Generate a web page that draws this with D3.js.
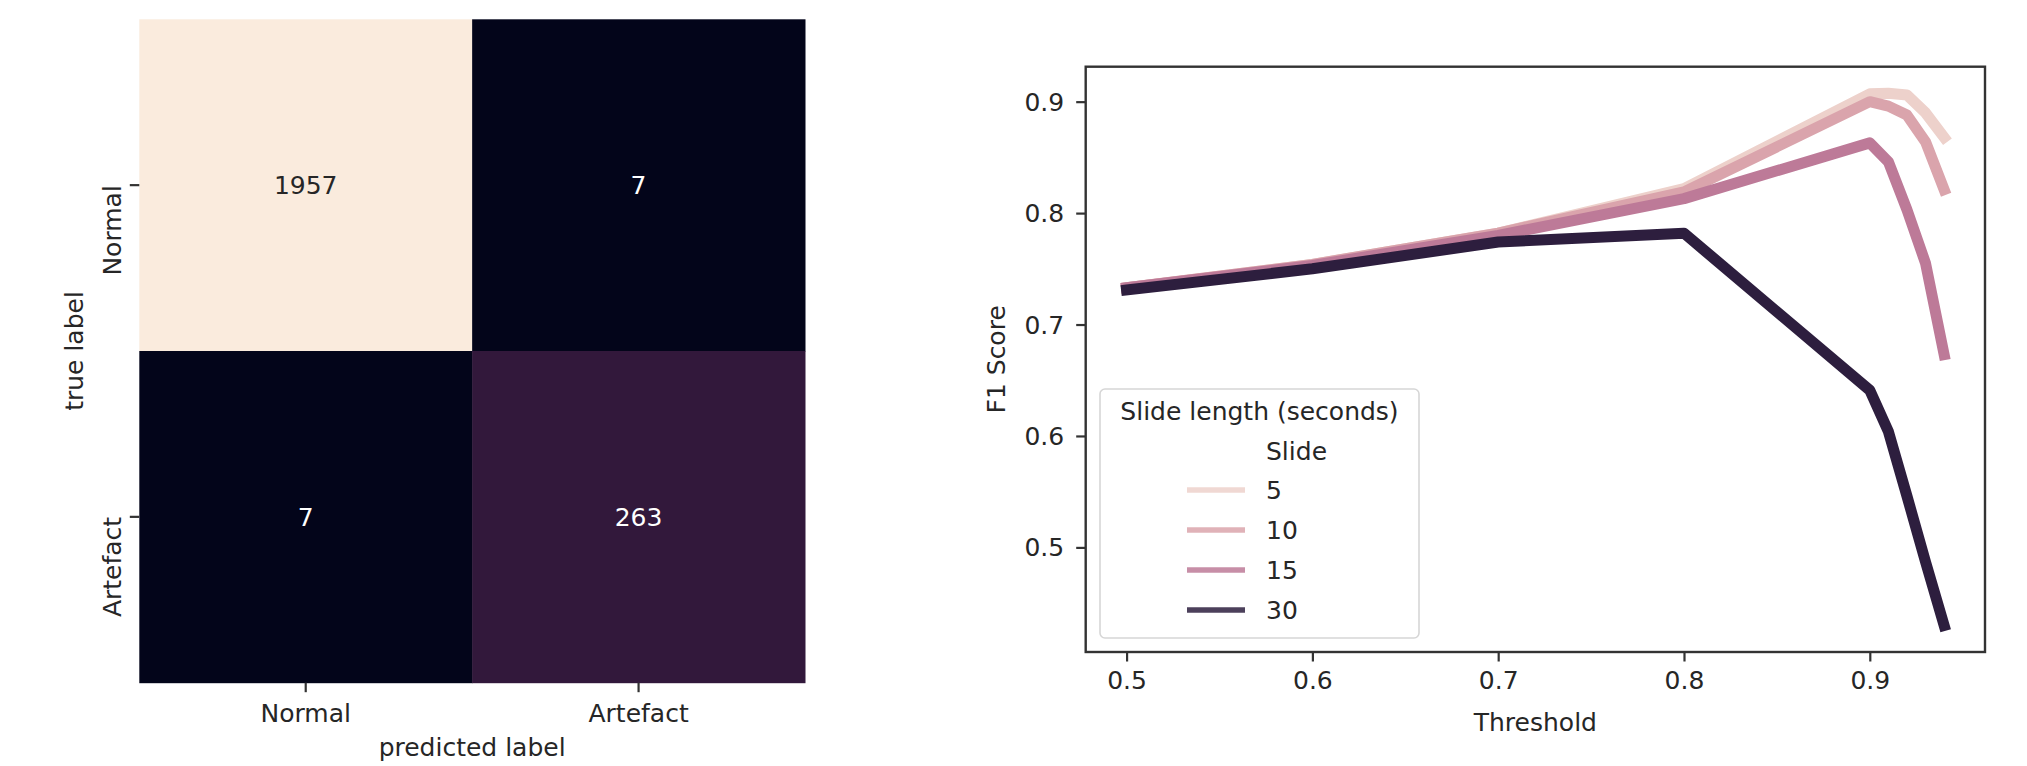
<!DOCTYPE html>
<html>
<head>
<meta charset="utf-8">
<script src="https://cdn.jsdelivr.net/npm/d3@7"></script>
<style>
  html, body { margin: 0; padding: 0; background: #ffffff; }
  svg { display: block; }
  text { font-family: "DejaVu Sans", sans-serif; fill: #262626; }
</style>
</head>
<body>
<svg id="chart" width="2027" height="766"></svg>
<script>
// ---------------- data ----------------
const cmClasses = ["Normal", "Artefact"];
const cmValues = [
  [1957, 7],
  [7, 263]
];
const cmXLabel = "predicted label";
const cmYLabel = "true label";

const thresholds = [0.5, 0.6, 0.7, 0.8, 0.9, 0.91, 0.92, 0.93, 0.94];
const slideLevels = [5, 10, 15, 30];
const f1Slide5  = [0.733, 0.754, 0.782, 0.822, 0.907, 0.9075, 0.906, 0.890, 0.868];
const f1Slide10 = [0.733, 0.754, 0.782, 0.819, 0.900, 0.896, 0.888, 0.864, 0.821];
const f1Slide15 = [0.733, 0.753, 0.780, 0.813, 0.863, 0.846, 0.803, 0.755, 0.673];
const f1Slide30 = [0.731, 0.750, 0.774, 0.782, 0.641, 0.604, 0.546, 0.487, 0.430];
const f1Series = [f1Slide5, f1Slide10, f1Slide15, f1Slide30];
const xTicks = [0.5, 0.6, 0.7, 0.8, 0.9];
const yTicks = [0.5, 0.6, 0.7, 0.8, 0.9];
const xLabel = "Threshold";
const yLabel = "F1 Score";
const legendTitle = "Slide length (seconds)";
const legendSubtitle = "Slide";

// ---------------- helpers ----------------
const svg = d3.select("#chart");
const FONT = 25;
const AXIS = "#333333";

// seaborn "ch:" cubehelix (start=0, rot=.4, gamma=1, hue=.8, light=.85, dark=.15)
function cubehelix(x) {
  const start = 0, rot = 0.4, hue = 0.8;
  const a = hue * x * (1 - x) / 2;
  const phi = 2 * Math.PI * (start / 3 + rot * x);
  const c = Math.cos(phi), s = Math.sin(phi);
  const r = x + a * (-0.14861 * c + 1.78277 * s);
  const g = x + a * (-0.29227 * c - 0.90649 * s);
  const b = x + a * (1.97294 * c);
  const cl = v => Math.max(0, Math.min(255, Math.round(v * 255)));
  return d3.rgb(cl(r), cl(g), cl(b)).formatHex();
}
const hueNorm = d3.scaleLinear().domain(d3.extent(slideLevels)).range([0.85, 0.15]);
const hueColor = v => cubehelix(hueNorm(v));

// rocket-like colormap for heatmap
const cmFlat = cmValues.flat();
const rocketStops = ["#03051a", "#32183b", "#7a1e4a", "#cb1b4f", "#f06043", "#f6a47c", "#faebdd"];
const rocketPos = [0, 0.131, 0.3, 0.5, 0.7, 0.85, 1];
const rocketT = d3.scaleLinear().domain(rocketPos).range(rocketStops).interpolate(d3.interpolateRgb);
const cmNorm = d3.scaleLinear().domain(d3.extent(cmFlat)).range([0, 1]);
const cmColor = v => rocketT(cmNorm(v));

// ---------------- heatmap ----------------
const hm = { left: 139.3, right: 805, top: 19.3, bottom: 682.7 };
const hx = d3.scaleBand().domain(cmClasses).range([hm.left, hm.right]);
const hy = d3.scaleBand().domain(cmClasses).range([hm.top, hm.bottom]);

const cells = [];
cmClasses.forEach((t, i) => cmClasses.forEach((p, j) => cells.push({ t, p, v: cmValues[i][j] })));

const gH = svg.append("g");
gH.selectAll("rect").data(cells).join("rect")
  .attr("x", d => hx(d.p)).attr("y", d => hy(d.t))
  .attr("width", hx.bandwidth() + 0.5).attr("height", hy.bandwidth() + 0.5)
  .attr("fill", d => cmColor(d.v));
gH.selectAll("text.ann").data(cells).join("text")
  .attr("class", "ann")
  .attr("x", d => hx(d.p) + hx.bandwidth() / 2)
  .attr("y", d => hy(d.t) + hy.bandwidth() / 2)
  .attr("dy", "0.36em")
  .attr("text-anchor", "middle")
  .style("font-size", FONT + "px")
  .style("fill", d => cmNorm(d.v) > 0.5 ? "#262626" : "#ffffff")
  .text(d => d.v);

// heatmap x axis
const hxAxis = gH.append("g");
cmClasses.forEach(c => {
  const x = hx(c) + hx.bandwidth() / 2;
  hxAxis.append("line").attr("x1", x).attr("x2", x).attr("y1", hm.bottom).attr("y2", hm.bottom + 9.5)
    .attr("stroke", AXIS).attr("stroke-width", 2.2);
  hxAxis.append("text").attr("x", x).attr("y", 722).attr("text-anchor", "middle")
    .style("font-size", FONT + "px").text(c);
});
gH.append("text").attr("x", (hm.left + hm.right) / 2).attr("y", 756).attr("text-anchor", "middle")
  .style("font-size", FONT + "px").text(cmXLabel);

// heatmap y axis
cmClasses.forEach(c => {
  const y = hy(c) + hy.bandwidth() / 2;
  gH.append("line").attr("x1", hm.left - 9.5).attr("x2", hm.left).attr("y1", y).attr("y2", y)
    .attr("stroke", AXIS).attr("stroke-width", 2.2);
  gH.append("text").attr("transform", `translate(120.5,${y}) rotate(-90)`)
    .attr("text-anchor", "end").style("font-size", FONT + "px").text(c);
});
gH.append("text").attr("transform", `translate(83,${(hm.top + hm.bottom) / 2}) rotate(-90)`)
  .attr("text-anchor", "middle").style("font-size", FONT + "px").text(cmYLabel);

// ---------------- line chart ----------------
const lc = { left: 1085.7, right: 1985, top: 66.7, bottom: 652 };
const xExt = d3.extent(thresholds);
const yExt = d3.extent(f1Series.flat());
const xPad = (xExt[1] - xExt[0]) * 0.05, yPad = (yExt[1] - yExt[0]) * 0.05;
const x = d3.scaleLinear().domain([xExt[0] - xPad, xExt[1] + xPad]).range([lc.left, lc.right]);
const y = d3.scaleLinear().domain([yExt[0] - yPad, yExt[1] + yPad]).range([lc.bottom, lc.top]);

const gL = svg.append("g");
const line = d3.line().x(d => x(d[0])).y(d => y(d[1]));
gL.append("defs").append("clipPath").attr("id", "clipL").append("rect")
  .attr("x", lc.left).attr("y", lc.top).attr("width", lc.right - lc.left).attr("height", lc.bottom - lc.top);
gL.append("g").attr("clip-path", "url(#clipL)")
  .selectAll("path").data(slideLevels).join("path")
  .attr("d", (lv, i) => line(thresholds.map((t, k) => [t, f1Series[i][k]])))
  .attr("fill", "none")
  .attr("stroke", lv => hueColor(lv))
  .attr("stroke-width", 11)
  .attr("stroke-linejoin", "round")
  .attr("stroke-linecap", "square");

// axes
const xAxis = d3.axisBottom(x).tickValues(xTicks).tickFormat(d3.format(".1f")).tickSizeOuter(0).tickSize(9.5).tickPadding(10);
const yAxis = d3.axisLeft(y).tickValues(yTicks).tickFormat(d3.format(".1f")).tickSizeOuter(0).tickSize(9.5).tickPadding(12);
const gx = gL.append("g").attr("transform", `translate(0,${lc.bottom})`).call(xAxis);
const gy = gL.append("g").attr("transform", `translate(${lc.left},0)`).call(yAxis);
[gx, gy].forEach(g => {
  g.select(".domain").remove();
  g.selectAll(".tick line").attr("stroke", AXIS).attr("stroke-width", 2.2);
  g.selectAll(".tick text").style("font-size", FONT + "px").style("font-family", "DejaVu Sans").attr("fill", "#262626");
});
gx.selectAll(".tick text").attr("dy", "0.71em");
gy.selectAll(".tick text").attr("dy", "0.34em");

// spines
gL.append("rect").attr("x", lc.left).attr("y", lc.top)
  .attr("width", lc.right - lc.left).attr("height", lc.bottom - lc.top)
  .attr("fill", "none").attr("stroke", AXIS).attr("stroke-width", 2.4);

gL.append("text").attr("x", (lc.left + lc.right) / 2).attr("y", 731).attr("text-anchor", "middle")
  .style("font-size", FONT + "px").text(xLabel);
gL.append("text").attr("transform", `translate(1005,${(lc.top + lc.bottom) / 2}) rotate(-90)`)
  .attr("text-anchor", "middle").style("font-size", FONT + "px").text(yLabel);

// legend
const lg = gL.append("g");
lg.append("rect").attr("x", 1100).attr("y", 389).attr("width", 319).attr("height", 249)
  .attr("rx", 5).attr("fill", "#ffffff").attr("fill-opacity", 0.8)
  .attr("stroke", "#d6d6d6").attr("stroke-width", 1.6);
lg.append("text").attr("x", 1259.5).attr("y", 420).attr("text-anchor", "middle")
  .style("font-size", FONT + "px").text(legendTitle);
lg.append("text").attr("x", 1266).attr("y", 460).style("font-size", FONT + "px").text(legendSubtitle);
const entryY = d3.scaleLinear().domain([0, 3]).range([490, 610]);
slideLevels.forEach((lv, i) => {
  const yy = entryY(i);
  lg.append("line").attr("x1", 1187).attr("x2", 1245).attr("y1", yy).attr("y2", yy)
    .attr("stroke", hueColor(lv)).attr("stroke-width", 5.5).attr("stroke-opacity", 0.85);
  lg.append("text").attr("x", 1266).attr("y", yy + 9).style("font-size", FONT + "px").text(lv);
});
</script>
</body>
</html>
